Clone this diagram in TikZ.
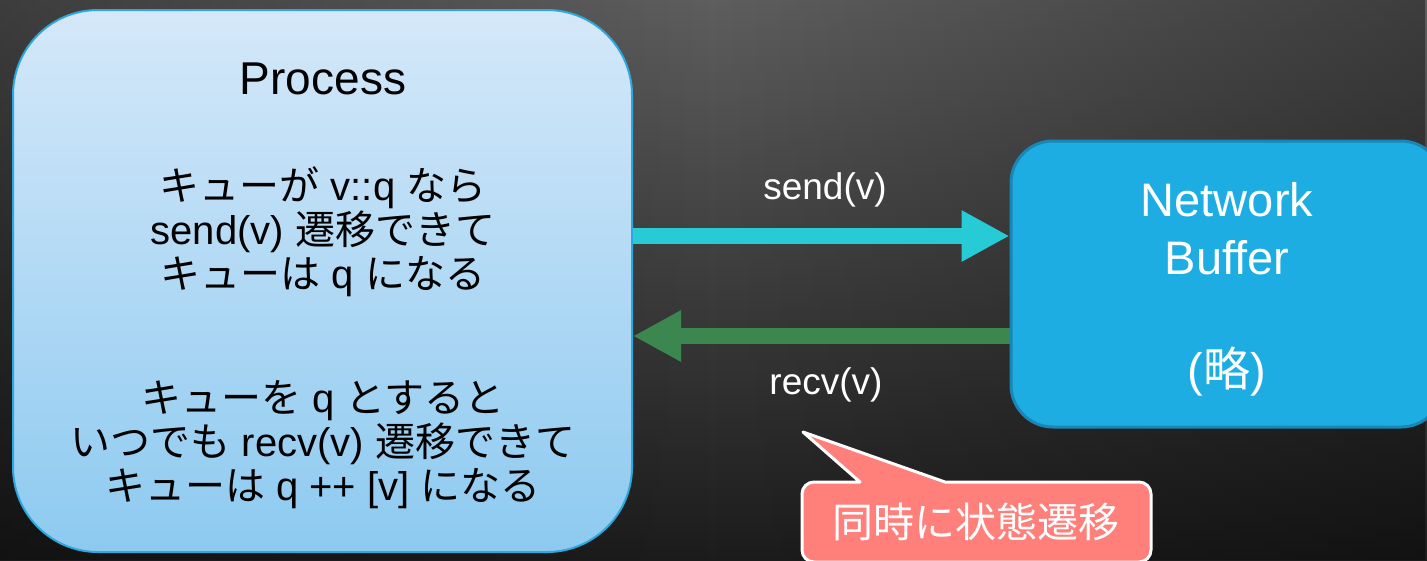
\documentclass[tikz,border=0pt]{standalone}
\usepackage{fontspec}
\setmainfont{Liberation Sans}
\newfontfamily\jp{Noto Sans CJK JP}
\usetikzlibrary{arrows.meta,fadings}
\definecolor{bgTop}{HTML}{5E5E5E}
\definecolor{bgMid}{HTML}{383838}
\definecolor{bgBot}{HTML}{1C1C1C}
\definecolor{procTop}{HTML}{D5E8F9}
\definecolor{procBot}{HTML}{8DCAF0}
\definecolor{procBorder}{HTML}{2EA8DC}
\definecolor{netFill}{HTML}{1EADE3}
\definecolor{netBorder}{HTML}{1A86B6}
\definecolor{sendCol}{HTML}{27CBD5}
\definecolor{recvCol}{HTML}{3C864F}
\definecolor{callFill}{HTML}{FF7F7B}
\tikzfading[name=sidedark, left color=transparent!65, right color=transparent!65, middle color=transparent!100]
\tikzset{
  bodytext/.style={font=\fontsize{40}{44}\selectfont, align=center, text=black, inner sep=0pt},
  nettext/.style={font=\fontsize{47}{58}\selectfont, align=center, text=white, inner sep=0pt},
  lbl/.style={font=\fontsize{37}{44}\selectfont, text=white, inner sep=0pt},
  bigarrow/.style={line width=16pt, -{Triangle[length=48pt,width=48pt]}},
}
\begin{document}
\begin{tikzpicture}[x=1pt,y=-1pt]
\useasboundingbox (0,0) rectangle (1427,560);
\begin{scope}
  \clip (0,0) rectangle (1427,560);
  \shade[top color=bgTop, middle color=bgMid, bottom color=bgBot] (0,0) rectangle (1427,560);
  \fill[black, path fading=sidedark, fit fading=true] (0,0) rectangle (1427,560);

  % Process box
  \node[draw=procBorder, line width=2pt, rounded corners=85pt, top color=procTop, bottom color=procBot,
        minimum width=619pt, minimum height=542pt, inner sep=0pt] (proc) at (322.5,281) {};
  \node[font=\fontsize{46}{52}\selectfont, text=black, inner sep=0pt] (ptitle) at (323,79) {Process};
  \node[bodytext] (pbody1) at (323,232) {{\jp キューが} v::q {\jp なら}\\send(v) {\jp 遷移できて}\\{\jp キューは} q {\jp になる}};
  \node[bodytext] (pbody2) at (323,445) {{\jp キューを} q {\jp とすると}\\{\jp いつでも} recv(v) {\jp 遷移できて}\\{\jp キューは} q ++ [v] {\jp になる}};

  % Network buffer box
  \node[draw=netBorder, line width=3pt, fill=netFill, rounded corners=42pt,
        minimum width=432pt, minimum height=286pt, inner sep=0pt] (net) at (1227,284) {};
  \node[nettext] (nettitle) at (1227,229) {Network\\Buffer};
  \node[nettext] (netomit) at (1227,372) {({\jp 略})};

  % arrows
  \coordinate (sendin) at ([yshift=48pt]net.west);
  \coordinate (recvout) at ([yshift=-52pt]net.west);
  \draw[bigarrow, draw=sendCol, fill=sendCol] (proc.east |- sendin) -- (sendin);
  \draw[bigarrow, draw=recvCol, fill=recvCol] (recvout) -- (proc.east |- recvout);
  \node[lbl] (sendlbl) at (825,190) {send(v)};
  \node[lbl] (recvlbl) at (826,385) {recv(v)};

  % callout
  \draw[fill=callFill, draw=white, line width=3pt, line join=round]
    (860,482) -- (803,432) -- (945,482) [rounded corners=12pt] -- (1151,482) -- (1151,562) -- (802,562) -- (802,482) [sharp corners] -- cycle;
  \node[font=\fontsize{41}{46}\selectfont, text=white, inner sep=0pt] (call) at (976,522) {\jp 同時に状態遷移};
\end{scope}
\end{tikzpicture}
\end{document}
